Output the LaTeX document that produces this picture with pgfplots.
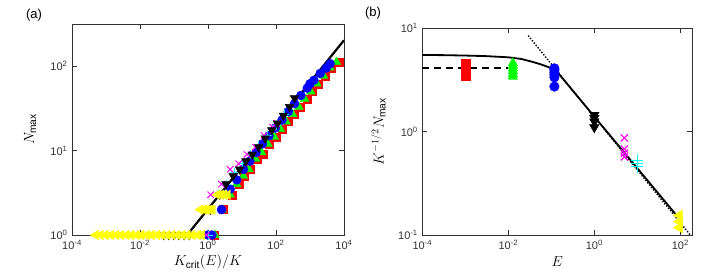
\documentclass[border=0pt]{standalone}
\usepackage{fontspec}
\setmainfont{Liberation Sans}
\usepackage{pgfplots}
\pgfplotsset{compat=1.18}
\definecolor{axgray}{gray}{0.2}
\definecolor{mred}{rgb}{1,0,0}
\definecolor{mgreen}{rgb}{0,1,0}
\definecolor{mblue}{rgb}{0,0,1}
\definecolor{mmag}{rgb}{1,0,1}
\definecolor{mcyan}{rgb}{0,1,1}
\definecolor{myel}{rgb}{1,1,0}
\pgfplotsset{
  myax/.style={
    scale only axis=true,
    log basis x=10, log basis y=10,
    axis line style={axgray, line width=0.6pt},
    tick style={axgray, line width=0.6pt},
    major tick length=5pt, minor tick length=2.6pt,
    tick align=inside,
    xminorticks=false,
    tick label style={font=\fontsize{11}{13}\selectfont, text=axgray},
    xticklabel style={yshift=-2pt},
    yticklabel style={xshift=-1pt},
    xticklabel={10\textsuperscript{\pgfmathprintnumber[fixed,precision=0,assume math mode=true]{\tick}}},
    yticklabel={10\textsuperscript{\pgfmathprintnumber[fixed,precision=0,assume math mode=true]{\tick}}},
    label style={font=\fontsize{14.5}{16}\selectfont},
  }
}
\begin{document}
\begin{tikzpicture}
\path[use as bounding box] (0,0) rectangle (709pt,279pt);
\node[font=\fontsize{13}{15}\selectfont] at (34pt,264pt) {(a)};
\node[font=\fontsize{13}{15}\selectfont] at (373pt,266pt) {(b)};
% ---------------- panel (a)
\begin{loglogaxis}[myax,
  at={(72pt,44pt)}, anchor=south west,
  width=272pt, height=211pt,
  xmin=1e-4, xmax=1e4, ymin=1, ymax=316,
  xtick={1e-4,1e-2,1,1e2,1e4},
  ytick={1,10,100},
  xlabel={$K_{\mathrm{crit}}(E)/K$},
  ylabel={$N_{\max}$},
  xlabel style={at={(axis description cs:0.5,-0.128)}, anchor=center},
  ylabel style={at={(axis description cs:-0.154,0.5)}, anchor=center},
]
\addplot[only marks, mark=square*, mark size=4pt, color=mred] coordinates {
(1.5,1) (2.8,2) (5,3) (8,4) (12,5) (18,6) (28,8) (42,9) (65,12) (100,14.5)
(150,18) (230,22) (350,27) (530,33) (800,41) (1200,50) (1800,62) (2800,77)
(4300,95) (7200,110)};
\addplot[only marks, mark=triangle*, mark size=5pt, color=mgreen] coordinates {
(1.6,1) (2.6,2) (4.5,3) (7,4) (11,5) (16,6) (25,8) (38,9.5) (58,12) (90,14.5)
(135,18) (200,22) (310,27) (470,33) (700,41) (1060,50) (1600,62) (2500,77)
(3900,96) (6000,112)};
\addplot[only marks, mark=*, mark size=4.5pt, color=mblue] coordinates {
(1.0,1) (1.3,1) (2.5,2) (4.5,3.5) (7,4.5) (11,6) (17,7.5) (26,9.5) (40,12)
(62,15) (95,18.5) (150,23) (230,29) (350,36) (540,45) (830,55) (1000,62)
(1300,68) (2000,82) (3000,95) (3900,107)};
\addplot[only marks, mark=+, mark size=4.5pt, line width=1pt, color=mcyan] coordinates {
(0.6,1) (1.0,1) (2,3) (3.5,4) (6,5.5) (10,7) (18,9) (30,11.5) (55,15) (100,20) (180,27)};
\addplot[only marks, mark=x, mark size=4.5pt, line width=1pt, color=mmag] coordinates {
(0.9,1) (1.2,3) (2.5,4) (4.5,6) (8,7) (14,9) (25,11) (45,15) (80,19) (105,21)};
\addplot[only marks, mark=triangle*, mark size=5pt, mark options={rotate=180}, color=black] coordinates {
(0.05,1) (0.07,1) (0.1,1) (0.14,1) (0.2,1) (0.28,1) (1.2,2) (2.2,3) (3.4,4)
(5.5,5) (8.5,6) (13,7.5) (20,9) (31,11) (48,14) (75,17.5) (110,21) (165,26)
(250,33) (350,42)};
\addplot[only marks, mark=triangle*, mark size=5.5pt, mark options={rotate=90}, color=myel] coordinates {
(5e-4,1) (7e-4,1) (1e-3,1) (1.4e-3,1) (2e-3,1) (2.8e-3,1) (4e-3,1) (5.6e-3,1)
(8e-3,1) (1.1e-2,1) (1.6e-2,1) (2.2e-2,1) (3.2e-2,1) (4.5e-2,1) (6.3e-2,1)
(8.9e-2,1) (0.126,1) (0.178,1) (0.25,1) (0.35,1) (0.5,1) (0.65,1)
(0.6,2) (0.75,2) (0.9,2) (1.1,2) (1.35,2) (1.9,3) (2.4,3) (3.0,3) (3.8,3)};
\addplot[black, line width=2.2pt] coordinates {(0.243,1) (1e4,203)};
\end{loglogaxis}
% ---------------- panel (b)
\begin{loglogaxis}[myax,
  at={(422.3pt,44pt)}, anchor=south west,
  width=270pt, height=206.7pt,
  xmin=1e-4, xmax=190, ymin=0.1, ymax=10,
  xtick={1e-4,1e-2,1,1e2},
  ytick={0.1,1,10},
  xlabel={$E$},
  ylabel={$K^{-1/2}N_{\max}$},
  xlabel style={at={(axis description cs:0.5,-0.13)}, anchor=center},
  ylabel style={at={(axis description cs:-0.163,0.5)}, anchor=center},
]
\addplot[black, line width=1.8pt, dash pattern=on 7pt off 5pt] coordinates {(1e-4,4.16) (1e-2,4.16)};
\addplot[black, line width=1.8pt] coordinates {
(1e-4,5.52) (3e-4,5.5) (1e-3,5.45) (3e-3,5.38) (1e-2,5.24) (2e-2,5.05)
(3.75e-2,4.72) (5.5e-2,4.5) (7.5e-2,4.3) (0.1,4.12) (0.12,4.0) (0.14,3.75)
(0.2,3.13) (0.5,1.98) (1,1.4) (10,0.443) (100,0.14)};
\addplot[black, line width=1.4pt, dash pattern=on 1.4pt off 1.6pt] coordinates {(0.029,8.5) (170,0.1)};
\addplot[only marks, mark=square*, mark size=4.5pt, color=mred] coordinates {
(1e-3,3.45) (1e-3,3.7) (1e-3,3.95) (1e-3,4.2) (1e-3,4.5)};
\addplot[only marks, mark=triangle*, mark size=5.5pt, color=mgreen] coordinates {
(0.0128,3.4) (0.0128,3.6) (0.0128,3.85) (0.0128,4.1) (0.0128,4.35) (0.0128,4.6)};
\addplot[only marks, mark=*, mark size=4.8pt, color=mblue] coordinates {
(0.118,2.73) (0.118,3.35) (0.118,3.55) (0.118,3.75) (0.118,3.95) (0.118,4.1)};
\addplot[only marks, mark=triangle*, mark size=5.5pt, mark options={rotate=180}, color=black] coordinates {
(1,1.1) (1,1.25) (1,1.35) (1,1.45)};
\addplot[only marks, mark=x, mark size=5pt, line width=1.1pt, color=mmag] coordinates {
(5,0.87) (5,0.68) (5,0.62) (5,0.57)};
\addplot[only marks, mark=+, mark size=6pt, line width=1.1pt, color=mcyan] coordinates {
(10,0.53) (10,0.49) (10,0.46)};
\addplot[only marks, mark=triangle*, mark size=6pt, mark options={rotate=90}, color=myel] coordinates {
(95,0.155) (95,0.135) (95,0.118)};
\end{loglogaxis}
\end{tikzpicture}
\end{document}
